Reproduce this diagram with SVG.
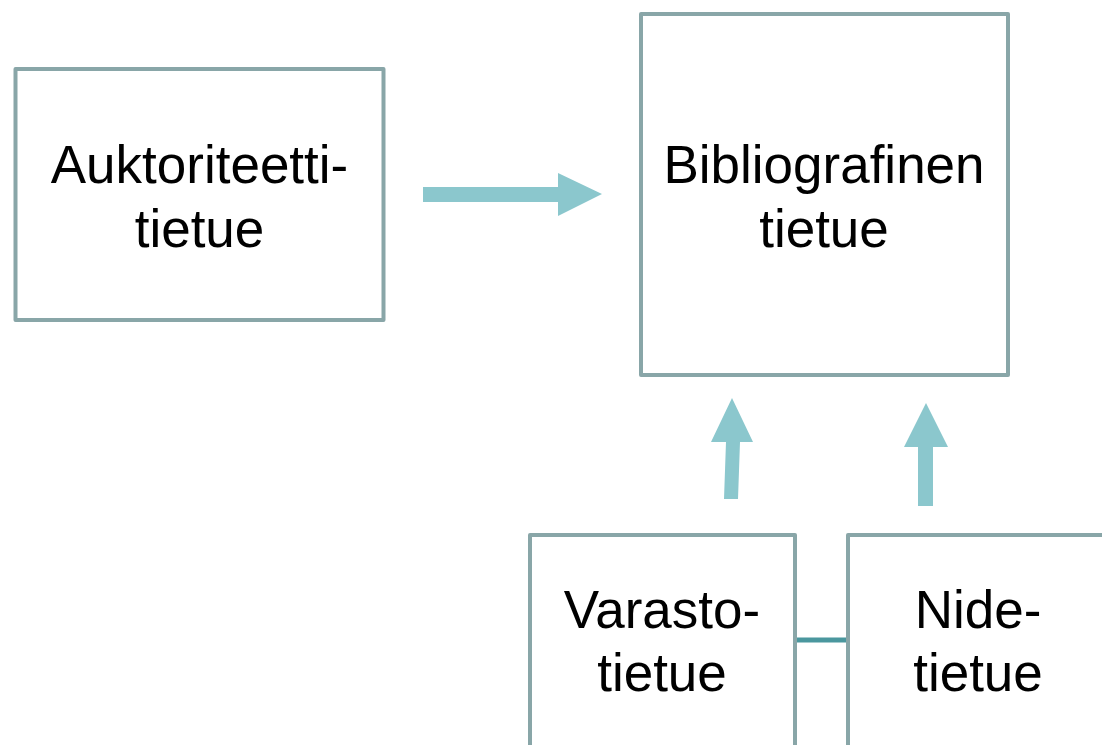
<svg xmlns="http://www.w3.org/2000/svg" width="1102" height="745" viewBox="0 0 1102 745">
<style>
.box{fill:#fff;stroke:#89a6a8;stroke-width:4;stroke-linejoin:round}
.lbl{font-family:"Liberation Sans",Arial,sans-serif;font-size:53px;fill:#000;text-anchor:middle}
.arr{fill:#8bc7cd}
.link{stroke:#4a979e;stroke-width:5;fill:none}
</style>
<rect width="1102" height="745" fill="#fff"/>
<g id="connectors">
<polygon class="arr" points="423,187 558,187 558,173 602,194 558,216 558,202 423,202"/>
<polygon class="arr" points="724,499 726,442 711,442 732,398 753,442 740,442 738,499"/>
<polygon class="arr" points="918,506 918,447 904,447 926,403 948,447 933,447 933,506"/>
<line class="link" x1="795" y1="640" x2="848" y2="640"/>
</g>
<g id="auktoriteetti">
<rect class="box" x="15.5" y="69" width="368" height="251"/>
<text class="lbl" x="199.5" y="183">Auktoriteetti-</text>
<text class="lbl" x="199.5" y="247">tietue</text>
</g>
<g id="bibliografinen">
<rect class="box" x="641" y="14" width="367" height="361"/>
<text class="lbl" x="824" y="183">Bibliografinen</text>
<text class="lbl" x="824" y="247">tietue</text>
</g>
<g id="varasto">
<rect class="box" x="530" y="535" width="265" height="260"/>
<text class="lbl" x="662" y="628">Varasto-</text>
<text class="lbl" x="662" y="691">tietue</text>
</g>
<g id="nide">
<rect class="box" x="848" y="535" width="260" height="260"/>
<text class="lbl" x="978" y="628">Nide-</text>
<text class="lbl" x="978" y="691">tietue</text>
</g>
</svg>
